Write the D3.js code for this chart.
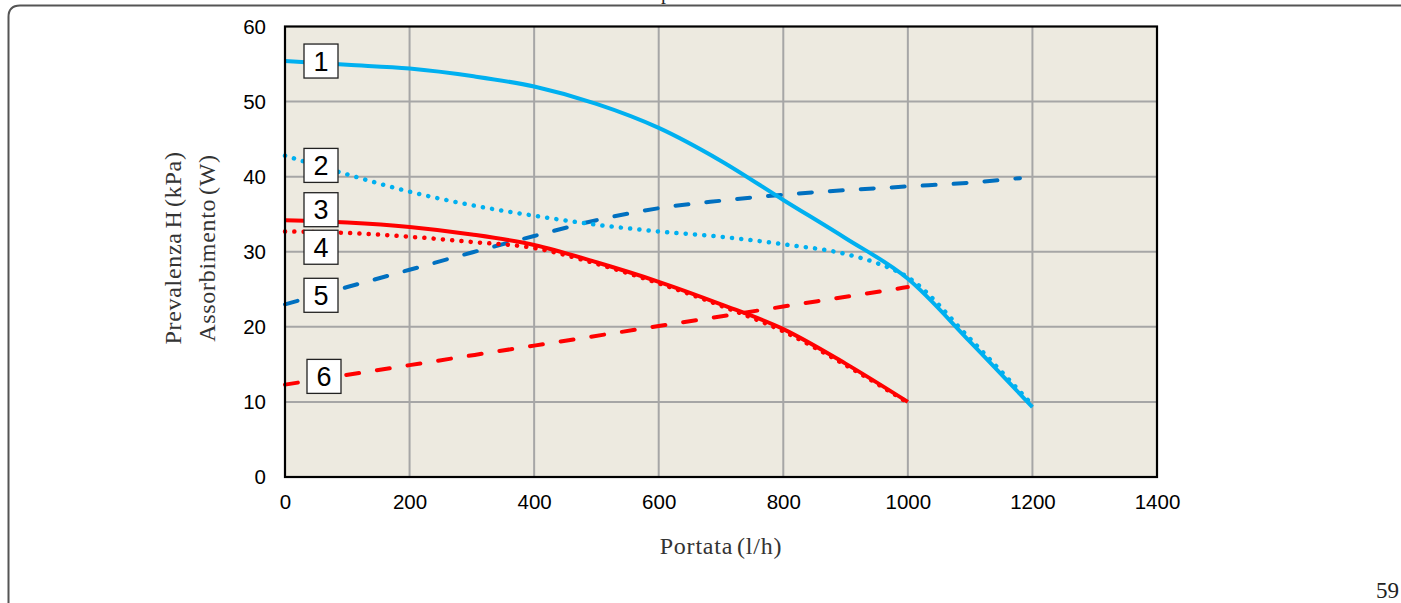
<!DOCTYPE html>
<html><head><meta charset="utf-8">
<script src="https://cdn.jsdelivr.net/npm/d3@7"></script>
<style>
html,body{margin:0;padding:0;background:#fff;}
svg{display:block;}
</style></head>
<body>
<svg id="chart" width="1401" height="603"></svg>
<script>
// ---- data ----
const xTicks = [0, 200, 400, 600, 800, 1000, 1200, 1400];
const yTicks = [0, 10, 20, 30, 40, 50, 60];

const flow1 = [0, 100, 200, 300, 400, 500, 600, 700, 800, 900, 1000, 1100, 1200];
const curve1 = [55.4, 54.9, 54.4, 53.4, 52.0, 49.7, 46.5, 42.1, 36.9, 31.8, 26.4, 18.0, 9.3];

const flow2 = [0, 100, 200, 300, 400, 500, 600, 700, 800, 900, 950, 1000, 1100, 1200];
const curve2 = [42.8, 40.3, 38.0, 36.2, 34.8, 33.6, 32.7, 32.0, 31.0, 29.7, 28.5, 26.6, 18.4, 9.6];

const flow3 = [0, 100, 200, 300, 400, 500, 600, 700, 800, 900, 1000];
const curve3 = [34.2, 33.9, 33.3, 32.3, 30.9, 28.6, 26.0, 23.0, 19.7, 15.1, 10.0];

const flow4 = [0, 100, 200, 300, 400, 500, 600, 700, 800, 900, 1000];
const curve4 = [32.7, 32.5, 32.0, 31.3, 30.5, 28.4, 25.8, 22.8, 19.4, 14.9, 9.9];

const flow5 = [0, 100, 200, 300, 400, 500, 600, 700, 800, 900, 1000, 1100, 1180];
const curve5 = [23.0, 25.3, 27.6, 29.9, 32.1, 34.2, 35.8, 36.8, 37.6, 38.2, 38.7, 39.2, 39.8];

const flow6 = [0, 200, 400, 600, 800, 1000];
const curve6 = [12.3, 14.9, 17.5, 20.1, 22.7, 25.3];

const curveLabels = ["1", "2", "3", "4", "5", "6"];
const labelYValues = [55.4, 41.5, 35.6, 30.6, 24.2, 13.4];

const xTitle = "Portata (l/h)";
const yTitle1 = "Prevalenza H (kPa)";
const yTitle2 = "Assorbimento (W)";
const pageNumber = "59";

// ---- layout ----
const svg = d3.select("#chart");
const pLeft = 285, pRight = 1157, pTop = 26.5, pBottom = 477;
const x = d3.scaleLinear().domain([0, 1400]).range([pLeft, pRight]);
const y = d3.scaleLinear().domain([0, 60]).range([pBottom, pTop]);

// page frame
svg.append("path")
  .attr("d", "M8.5,603 L8.5,17 Q8.5,5.5 20,5.5 L1401,5.5")
  .attr("fill", "none").attr("stroke", "#555").attr("stroke-width", 2);
svg.append("text").attr("x", 661).attr("y", -1.5)
  .attr("font-family", "Liberation Serif").attr("font-size", 20).attr("fill", "#222").text("p");

// plot background
svg.append("rect").attr("x", pLeft).attr("y", pTop).attr("width", pRight - pLeft).attr("height", pBottom - pTop)
  .attr("fill", "#EDEAE0");

// grid
const grid = svg.append("g");
grid.selectAll("line.v").data(xTicks.slice(1, -1)).join("line")
  .attr("x1", d => x(d)).attr("x2", d => x(d)).attr("y1", pTop).attr("y2", pBottom)
  .attr("stroke", "#A6A6A6").attr("stroke-width", 2);
grid.selectAll("line.h").data(yTicks.slice(1, -1)).join("line")
  .attr("x1", pLeft).attr("x2", pRight).attr("y1", d => y(d)).attr("y2", d => y(d))
  .attr("stroke", "#A6A6A6").attr("stroke-width", 2);

// axes (labels only)
const xAxis = svg.append("g").attr("transform", `translate(0,${pBottom})`)
  .call(d3.axisBottom(x).tickValues(xTicks).tickSize(0).tickPadding(17).tickFormat(d3.format("d")));
const yAxis = svg.append("g").attr("transform", `translate(${pLeft},0)`)
  .call(d3.axisLeft(y).tickValues(yTicks).tickSize(0).tickPadding(19).tickFormat(d3.format("d")));
[xAxis, yAxis].forEach(a => {
  a.select(".domain").remove();
  a.selectAll("text").attr("font-family", "Liberation Sans, Arial").attr("font-size", 20.5).attr("fill", "#000");
});

// curves
const line = d3.line().x(d => x(d[0])).y(d => y(d[1])).curve(d3.curveMonotoneX);
const series = [
  {f: flow5, v: curve5, c: "#0070C0", dash: "13 18"},
  {f: flow6, v: curve6, c: "#FF0000", dash: "13 18"},
  {f: flow2, v: curve2, c: "#00B0F0", dash: "0.1 9.2"},
  {f: flow4, v: curve4, c: "#FF0000", dash: "0.1 9.2"},
  {f: flow3, v: curve3, c: "#FF0000", dash: null},
  {f: flow1, v: curve1, c: "#00B0F0", dash: null},
];
const cg = svg.append("g");
series.forEach(s => {
  cg.append("path").datum(s.f.map((f, i) => [f, s.v[i]]))
    .attr("d", line).attr("fill", "none").attr("stroke", s.c)
    .attr("stroke-width", s.dash && s.dash.startsWith("0.1") ? 4.5 : 4)
    .attr("stroke-linecap", s.dash ? "round" : "butt")
    .attr("stroke-dasharray", s.dash);
});

// plot border
svg.append("rect").attr("x", pLeft).attr("y", pTop).attr("width", pRight - pLeft).attr("height", pBottom - pTop)
  .attr("fill", "none").attr("stroke", "#000").attr("stroke-width", 2.2);

// curve labels
const labelX = [321, 321, 321, 321, 321, 324];
const lg = svg.append("g");
curveLabels.forEach((t, i) => {
  const cx = labelX[i], cy = y(labelYValues[i]);
  lg.append("rect").attr("x", cx - 17).attr("y", cy - 17).attr("width", 34).attr("height", 34)
    .attr("fill", "#fff").attr("stroke", "#222").attr("stroke-width", 1.3);
  lg.append("text").attr("x", cx).attr("y", cy + 9.5).attr("text-anchor", "middle")
    .attr("font-family", "Liberation Sans, Arial").attr("font-size", 27).attr("fill", "#000").text(t);
});

// titles
svg.append("text").attr("x", 721).attr("y", 554).attr("text-anchor", "middle")
  .attr("font-family", "Liberation Serif").attr("font-size", 24).attr("letter-spacing", 0.8)
  .attr("word-spacing", -3).attr("fill", "#333").text(xTitle);
svg.append("text").attr("transform", "translate(181,248) rotate(-90)").attr("text-anchor", "middle")
  .attr("font-family", "Liberation Serif").attr("font-size", 24).attr("letter-spacing", 0.7)
  .attr("word-spacing", -3).attr("fill", "#333").text(yTitle1);
svg.append("text").attr("transform", "translate(215,248) rotate(-90)").attr("text-anchor", "middle")
  .attr("font-family", "Liberation Serif").attr("font-size", 24).attr("letter-spacing", 0.7)
  .attr("word-spacing", -3).attr("fill", "#333").text(yTitle2);

svg.append("text").attr("x", 1399).attr("y", 598).attr("text-anchor", "end")
  .attr("font-family", "Liberation Serif").attr("font-size", 23).attr("fill", "#222").text(pageNumber);
</script>
</body></html>
